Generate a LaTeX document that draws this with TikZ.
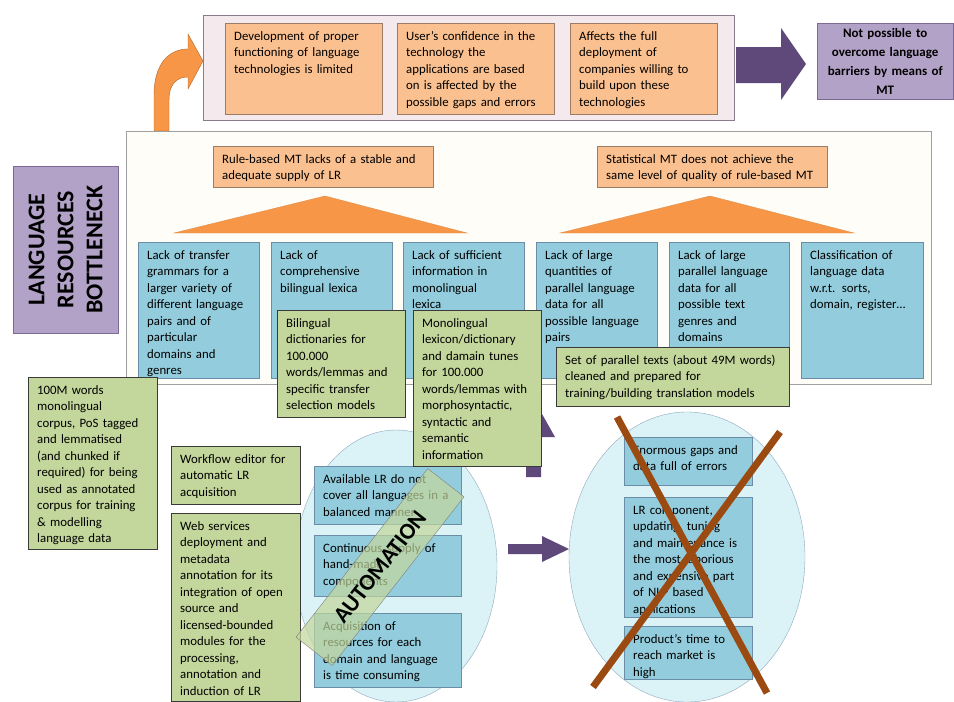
\documentclass[tikz,border=0pt]{standalone}
\usepackage{fontspec}
\setmainfont{Carlito}
\usetikzlibrary{shapes.geometric}

\definecolor{peach}{HTML}{FAC090}
\definecolor{peachline}{HTML}{9C7C66}
\definecolor{orangetri}{HTML}{F79646}
\definecolor{lavender}{HTML}{B3A2C7}
\definecolor{lavline}{HTML}{7E6A96}
\definecolor{darkpurple}{HTML}{5F497A}
\definecolor{pinkpanel}{HTML}{F4EAEE}
\definecolor{pinkline}{HTML}{8B7B8C}
\definecolor{cream}{HTML}{FFFDF7}
\definecolor{creamline}{HTML}{A0A0A0}
\definecolor{sky}{HTML}{93CDDD}
\definecolor{skyline}{HTML}{6B8DA8}
\definecolor{olive}{HTML}{C3D69B}
\definecolor{oliveline}{HTML}{3A3A3A}
\definecolor{ellfill}{HTML}{DBF3F7}
\definecolor{ellline}{HTML}{8EA9BC}
\definecolor{crossbrown}{HTML}{9B4A12}

\begin{document}
\begin{tikzpicture}[x=1pt, y=-1pt,
        txt/.style={font=\fontsize{12.8}{16.5}\selectfont, align=left, anchor=north west, inner xsep=9, inner ysep=7, text height=10},
        sz/.style 2 args={text width=#1-18, text depth=#2-24},
        obox/.style={txt, fill=peach, draw=peachline},
        bbox/.style={txt, fill=sky, draw=skyline},
        gbox/.style={txt, fill=olive, draw=oliveline},
        panel/.style 2 args={anchor=north west, minimum width=#1, minimum height=#2, inner sep=0},
        ell/.style={ellipse, fill=ellfill, draw=ellline, inner sep=0},
        blockarrow/.style={fill=darkpurple},
        cross/.style={crossbrown, line width=7}]
    \useasboundingbox[fill=white] (0,0) rectangle (954,702);

    \node[panel={531}{105}, fill=pinkpanel, draw=pinkline] (toppanel) at (203,15) {};
    \node[obox, sz={157}{91}] (dev) at (225,23) {Development of proper\\functioning of language\\technologies is limited};
    \node[obox, sz={157}{91}] (conf) at (397,23) {User’s confidence in the\\technology the\\applications are based\\on is affected by the\\possible gaps and errors};
    \node[obox, sz={147}{91}] (deploy) at (570,23) {Affects the full\\deployment of\\companies willing to\\build upon these\\technologies};
    \node[panel={136}{76}, fill=lavender, draw=lavline, anchor=north west, align=center, text width=122, font=\bfseries\fontsize{13}{19}\selectfont] (barrier) at (817,23) {Not possible to\\overcome language\\barriers by means of\\MT};
    \fill[blockarrow] (736,47) -- (781,47) -- (781,28) -- (806,64) -- (781,100) -- (781,83) -- (736,83) -- cycle;
    \filldraw[fill=orangetri, draw=orangetri!70!black, line width=0.4] (154,131) -- (154,95) .. controls (154,65) and (168,49) .. (188,49) -- (188,34) -- (203,61) -- (188,89) -- (188,77) .. controls (176,77) and (169,85) .. (169,100) -- (169,131) -- cycle;

    \node[panel={805}{253}, fill=cream, draw=creamline] (midpanel) at (126,131) {};
    \node[panel={167}{105}, fill=lavender, draw=lavline, rotate=90, anchor=center, align=center, font=\bfseries\fontsize{24}{29}\selectfont] (lrb) at (65.5,249.5) {LANGUAGE\\RESOURCES\\BOTTLENECK};
    \node[obox, sz={220}{41}] (rbmt) at (213,146) {Rule-based MT lacks of a stable and\\adequate supply of LR};
    \node[obox, sz={230}{41}] (smt) at (597,146) {Statistical MT does not achieve the\\same level of quality of rule-based MT};
    \filldraw[fill=orangetri, draw=orangetri!80!gray, line width=0.4] (174,233) -- (325,196) -- (467,233) -- cycle;
    \filldraw[fill=orangetri, draw=orangetri!80!gray, line width=0.4] (560,233) -- (710,196) -- (854,233) -- cycle;

    \node[bbox, sz={121}{136}] (transfer) at (138,242) {Lack of transfer\\grammars for a\\larger variety of\\different language\\pairs and of\\particular\\domains and\\genres};
    \node[bbox, sz={121}{136}] (bilex) at (271,242) {Lack of\\comprehensive\\bilingual lexica};
    \node[bbox, sz={121}{136}] (monolex) at (403,242) {Lack of sufficient\\information in\\monolingual\\lexica};
    \node[bbox, sz={121}{136}] (pardata) at (536,242) {Lack of large\\quantities of\\parallel language\\data for all\\possible language\\pairs};
    \node[bbox, sz={120}{136}] (genres) at (669,242) {Lack of large\\parallel language\\data for all\\possible text\\genres and\\domains};
    \node[bbox, sz={122}{136}] (classif) at (801,242) {Classification of\\language data\\w.r.t. sorts,\\domain, register…};

    \node[ell, minimum width=202, minimum height=272] (leftell) at (396,566) {};
    \node[ell, minimum width=236, minimum height=290] (rightell) at (687,557) {};
    \node[bbox, sz={147}{58}] (avail) at (314,466) {Available LR do not\\cover all languages in a\\balanced manner};
    \node[bbox, sz={147}{61}] (supply) at (314,535) {Continuous supply of\\hand-made\\components};
    \node[bbox, sz={147}{74}] (acq) at (314,613) {Acquisition of\\resources for each\\domain and language\\is time consuming};
    \node[bbox, sz={128}{48}] (gaps) at (624,437) {Enormous gaps and\\data full of errors};
    \node[bbox, sz={128}{120}] (lrcomp) at (624,497) {LR component,\\updating, tuning\\and maintenance is\\the most laborious\\and expensive part\\of NLP based\\applications};
    \node[bbox, sz={128}{53}] (market) at (624,626) {Product’s time to\\reach market is\\high};
    \fill[blockarrow] (526,477) -- (526,437) -- (511,437) -- (533,398) -- (555,437) -- (541,437) -- (541,477) -- cycle;
    \fill[blockarrow] (508,544) -- (542,544) -- (542,536) -- (569,549) -- (542,562) -- (542,554) -- (508,554) -- cycle;

    \node[gbox, sz={128}{107}] (bildict) at (277,310) {Bilingual\\dictionaries for\\100.000\\words/lemmas and\\specific transfer\\selection models};
    \node[gbox, sz={128}{156}] (monodict) at (413,310) {Monolingual\\lexicon/dictionary\\and damain tunes\\for 100.000\\words/lemmas with\\morphosyntactic,\\syntactic and\\semantic\\information};
    \node[gbox, sz={233}{59}] (partexts) at (556,347) {Set of parallel texts (about 49M words)\\cleaned and prepared for\\training/building translation models};
    \node[gbox, sz={129}{172}] (corpus) at (28,377) {100M words\\monolingual\\corpus, PoS tagged\\and lemmatised\\(and chunked if\\required) for being\\used as annotated\\corpus for training\\\& modelling\\language data};
    \node[gbox, sz={129}{58}] (workflow) at (171,446) {Workflow editor for\\automatic LR\\acquisition};
    \node[gbox, sz={129}{188}] (websrv) at (171,513) {Web services\\deployment and\\metadata\\annotation for its\\integration of open\\source and\\licensed-bounded\\modules for the\\processing,\\annotation and\\induction of LR};

    \node[rotate=52, minimum width=214, minimum height=46, fill=olive, fill opacity=0.7, text opacity=1, draw=gray, font=\bfseries\fontsize{23}{26}\selectfont] (automation) at (380,567) {AUTOMATION};

    \draw[cross] (617,417) -- (767,693);
    \draw[cross] (780,432) -- (593,687);
\end{tikzpicture}
\end{document}
